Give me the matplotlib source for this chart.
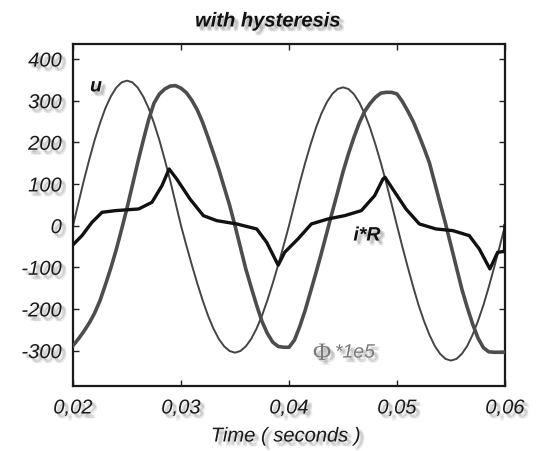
import numpy as np
import matplotlib
matplotlib.use("Agg")
import matplotlib.pyplot as plt
import matplotlib.patheffects as pe

# sampled every 0.5 ms from 0.02 s to 0.06 s
t_grid = np.linspace(0.02, 0.06, 81)

u_vals = [0, 54, 108, 158, 205, 246, 282, 310, 331, 344, 348,
          344, 331, 310, 282, 246, 205, 158, 108, 54, 0,
          -48, -94, -138, -179, -216, -247, -272, -290, -301, -305,
          -301, -290, -272, -247, -216, -179, -138, -94, -48, 0,
          52, 103, 151, 195, 235, 269, 296, 316, 328, 332,
          328, 316, 296, 269, 235, 195, 151, 103, 52, 0,
          -51, -100, -147, -191, -229, -262, -289, -308, -320, -324,
          -320, -308, -289, -262, -229, -191, -147, -100, -51, 0]

phi_vals = [-288, -272, -254, -234, -210, -180, -142, -102, -58, -9, 42,
            97, 152, 204, 254, 294, 316, 328, 335, 336, 330,
            319, 301, 278, 248, 212, 174, 135, 92, 49, 0,
            -52, -104, -148, -191, -230, -259, -280, -290, -292, -292,
            -275, -242, -203, -158, -113, -66, -17, 32, 80, 129,
            172, 211, 246, 274, 293, 308, 318, 320, 320, 316,
            298, 275, 250, 219, 186, 151, 102, 53, 4, -48,
            -100, -152, -196, -236, -270, -293, -303, -304, -304, -304]

# i*R has sharp corners, so it keeps its own time points
ir_t = [0.0200, 0.02083, 0.02176, 0.02269, 0.02392, 0.02608, 0.02731, 0.02824,
        0.0289, 0.0296, 0.03083, 0.03207, 0.0333, 0.03516, 0.03701, 0.03793,
        0.0390, 0.0396, 0.04083, 0.04207, 0.04361, 0.04516, 0.0467, 0.04793,
        0.0487, 0.04889, 0.0496, 0.05083, 0.05207, 0.05361, 0.05516, 0.05669,
        0.05762, 0.0586, 0.05932, 0.05995, 0.0600]
ir_vals = [-46, -24, 8, 32, 36, 40, 56, 96,
           136, 112, 64, 24, 12, 4, -8, -40,
           -95, -64, -32, 4, 16, 24, 36, 72,
           112, 116, 88, 40, 4, -8, -12, -24,
           -56, -104, -64, -62, 0]

x_ticks = [0.02, 0.03, 0.04, 0.05, 0.06]
x_tick_labels = ["0,02", "0,03", "0,04", "0,05", "0,06"]
y_ticks = [-300, -200, -100, 0, 100, 200, 300, 400]


def shadow(color="#808080", alpha=0.16):
    effects = []
    for dx, dy in [(1.5, -1.5), (2.5, -2.5), (3.2, -2.0), (2.0, -3.2), (3.5, -3.5)]:
        effects.append(pe.SimplePatchShadow(offset=(dx, dy), shadow_rgbFace=color, alpha=alpha))
    effects.append(pe.Normal())
    return effects


fig = plt.figure(figsize=(5.36, 4.52), dpi=100)
ax = fig.add_axes([73 / 536, 65 / 452, 432 / 536, 342 / 452])

ax.plot(t_grid, u_vals, color="#444444", lw=1.4, zorder=2)
ax.plot(t_grid, phi_vals, color="#4d4d4d", lw=2.6, zorder=3)
ax.plot(ir_t, ir_vals, color="#111111", lw=2.4, zorder=4)

ax.set_xlim(0.02, 0.06)
ax.set_ylim(-385, 436)
ax.set_xticks(x_ticks)
ax.set_xticklabels(x_tick_labels)
ax.set_yticks(y_ticks)
ax.set_yticklabels([str(v) for v in y_ticks])

ax.tick_params(direction="in", top=True, right=True, length=4, width=1, color="#222222")
ax.tick_params(axis="y", pad=8)
ax.tick_params(axis="x", pad=9)
for lab in ax.get_xticklabels() + ax.get_yticklabels():
    lab.set_fontfamily("Liberation Sans")
    lab.set_fontstyle("italic")
    lab.set_fontsize(14.5)
    lab.set_color("#1a1a1a")
    lab.set_path_effects(shadow())

for sp in ax.spines.values():
    sp.set_linewidth(1.6)
    sp.set_color("#1a1a1a")

fig.text(268 / 536, 1 - 22 / 452, "with hysteresis", ha="center", va="center",
         fontfamily="Liberation Sans", fontstyle="italic", fontweight="bold",
         fontsize=14.5, color="#111111", path_effects=shadow())
fig.text(286 / 536, 1 - 437 / 452, "Time ( seconds )", ha="center", va="center",
         fontfamily="Liberation Sans", fontstyle="italic", fontsize=14.5,
         color="#1a1a1a", path_effects=shadow())

ax.text(0.02213, 333, "u", ha="center", va="center", fontfamily="Liberation Sans",
        fontstyle="italic", fontweight="bold", fontsize=14, color="#111111",
        path_effects=shadow(), zorder=6)
ax.text(0.04722, -25, "i*R", ha="center", va="center", fontfamily="Liberation Sans",
        fontstyle="italic", fontweight="bold", fontsize=14, color="#111111",
        path_effects=shadow(), zorder=6)
ax.text(0.04306, -308, "\u03a6", ha="center", va="center", fontfamily="Liberation Serif",
        fontsize=18, color="#7a7a7a", path_effects=shadow(), zorder=6)
ax.text(0.04425, -306, "*1e5", ha="left", va="center", fontfamily="Liberation Sans",
        fontstyle="italic", fontsize=14, color="#7a7a7a",
        path_effects=shadow(), zorder=6)

fig.savefig("out.png", dpi=100, facecolor="white")
